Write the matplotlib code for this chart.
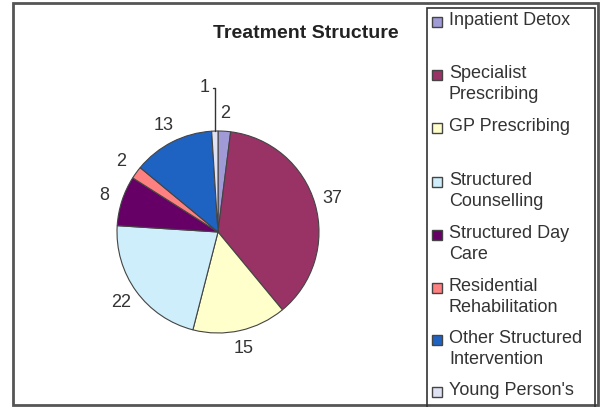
import matplotlib.pyplot as plt
from matplotlib.patches import Rectangle
import numpy as np

plt.rcParams['font.family'] = ['Liberation Sans', 'DejaVu Sans']

# Data
categories = ["Inpatient Detox", "Specialist\nPrescribing", "GP Prescribing",
              "Structured\nCounselling", "Structured Day\nCare", "Residential\nRehabilitation",
              "Other Structured\nIntervention", "Young Person's"]
values = [2, 37, 15, 22, 8, 2, 13, 1]
colors = ["#a09ad6", "#993366", "#ffffcc", "#cdeefa", "#660066", "#ff8080", "#1f63c2", "#dfe2f2"]
legend_y = [22, 75, 128, 182, 235, 288, 340, 392]  # px from top, first line of each entry

W, H = 605, 407
fig = plt.figure(figsize=(W / 100, H / 100), dpi=100)
fig.patch.set_facecolor("white")

# outer frame and legend frame
fig.patches.append(Rectangle((13 / W, 2 / H), 585 / W, 402 / H, transform=fig.transFigure,
                             fill=False, edgecolor="#555555", lw=2))
fig.patches.append(Rectangle((427 / W, -0.01), 168 / W, 403 / H, transform=fig.transFigure,
                             fill=False, edgecolor="#333333", lw=1.2))

# pie axes
cx, cy, r = 218, 232, 101
ax = fig.add_axes([(cx - r) / W, (H - cy - r) / H, 2 * r / W, 2 * r / H])
wedges, texts = ax.pie(values, colors=colors, startangle=90, counterclock=False,
                       labels=[str(v) for v in values], labeldistance=1.18,
                       wedgeprops=dict(edgecolor="#444444", linewidth=0.8),
                       textprops=dict(fontsize=13, color="#333333", ha="center", va="center"))
ax.set_xlim(-1, 1)
ax.set_ylim(-1, 1)
ax.set_aspect("equal")
ax.axis("off")

# leader line for the smallest slice
small = int(np.argmin(values))
texts[small].set_visible(False)
w = wedges[small]
ang = np.deg2rad((w.theta1 + w.theta2) / 2)
ax.annotate(str(values[small]), xy=(np.cos(ang), np.sin(ang)), xytext=(-0.08, 1.43),
            ha="right", va="center", fontsize=13, color="#333333", annotation_clip=False,
            arrowprops=dict(arrowstyle="-", color="#333333", lw=1, shrinkA=0, shrinkB=0,
                            relpos=(1, 0.5), connectionstyle="angle,angleA=0,angleB=90,rad=0"))

fig.text(306 / W, 1 - 33 / H, "Treatment Structure", ha="center", va="center",
         fontsize=14, fontweight="bold", color="#222222")

# legend
for lab, col, y in zip(categories, colors, legend_y):
    fig.patches.append(Rectangle((432 / W, 1 - (y + 5) / H), 10 / W, 10 / H,
                                 transform=fig.transFigure, facecolor=col,
                                 edgecolor="#444444", lw=1))
    fig.text(449 / W, 1 - (y - 10) / H, lab, ha="left", va="top", fontsize=13,
             color="#333333", linespacing=1.3)

fig.savefig("out.png", dpi=100)
